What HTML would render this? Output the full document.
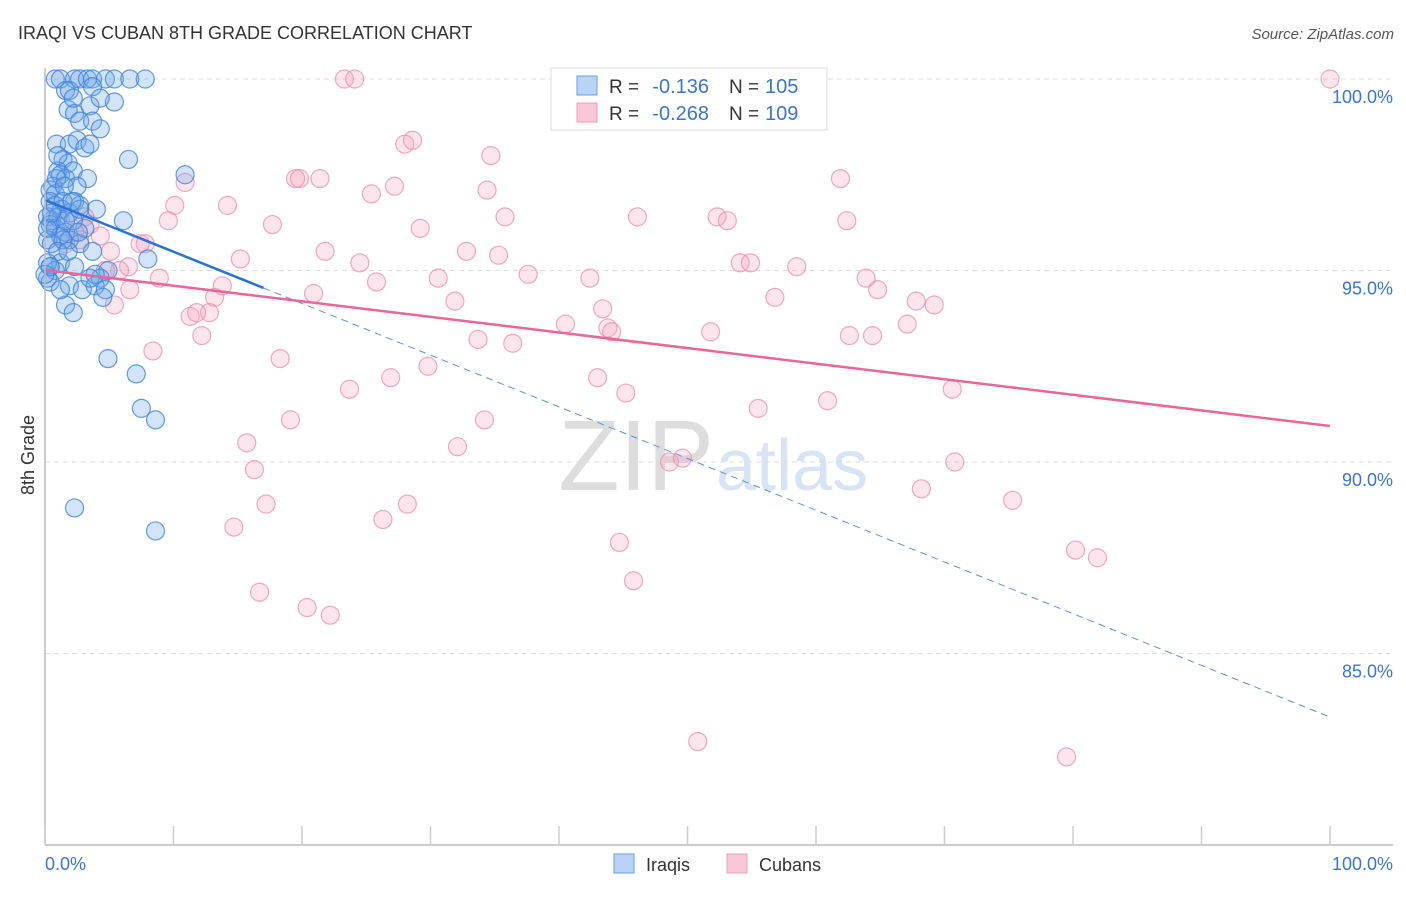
<!DOCTYPE html>
<html><head><meta charset="utf-8"><style>
body{margin:0;background:#fff;font-family:"Liberation Sans",sans-serif;}
svg text{font-family:"Liberation Sans",sans-serif;}
</style></head><body>
<svg id="chart" width="1406" height="892" viewBox="0 0 1406 892">
<text x="18" y="39" font-size="18" fill="#333">IRAQI VS CUBAN 8TH GRADE CORRELATION CHART</text>
<text x="1394" y="39" font-size="15" fill="#555" font-style="italic" text-anchor="end">Source: ZipAtlas.com</text>
<text x="714" y="490" font-size="100" fill="#ddd" text-anchor="end" font-family="Liberation Serif">ZIP</text>
<text x="716" y="490" font-size="72" fill="#d6e4f5">atlas</text>
<g id="grid"></g><g id="pink"></g><g id="blue"></g><g id="lines"></g><g id="axes"></g>
<text x="34" y="455" font-size="18" fill="#333" transform="rotate(-90 34 455)" text-anchor="middle">8th Grade</text>
<g>
<rect x="551" y="68" width="276" height="62" fill="#fff" stroke="#ddd"/>
<rect x="577" y="76" width="20" height="19" fill="#b8d3f5" stroke="#6a9ee0"/>
<rect x="577" y="103" width="20" height="19" fill="#f8c6d6" stroke="#eea0b8"/>
<text x="609" y="93" font-size="19" fill="#333">R =</text>
<text x="709" y="93" font-size="20" fill="#3a75d0" text-anchor="end">-0.136</text>
<text x="729" y="93" font-size="19" fill="#333">N =</text>
<text x="765" y="93" font-size="20" fill="#3a75d0">105</text>
<text x="609" y="120" font-size="19" fill="#333">R =</text>
<text x="709" y="120" font-size="20" fill="#3a75d0" text-anchor="end">-0.268</text>
<text x="729" y="120" font-size="19" fill="#333">N =</text>
<text x="765" y="120" font-size="20" fill="#3a75d0">109</text>
</g>
<g>
<rect x="614" y="854" width="20" height="19" fill="#b8d3f5" stroke="#6a9ee0"/>
<text x="646" y="871" font-size="18" fill="#333">Iraqis</text>
<rect x="727" y="854" width="20" height="19" fill="#f8c6d6" stroke="#eea0b8"/>
<text x="759" y="871" font-size="18" fill="#333">Cubans</text>
</g>
</svg>
<script>
const blueX=[0.8,1.2,2.3,2.7,3.3,3.7,4.7,5.4,6.6,7.8,1.6,1.9,3.7,1.8,3.5,5.4,2.3,2.7,3.7,4.3,0.9,1.9,2.5,3.1,3.5,6.5,1.4,1.8,1.0,1.2,2.2,1.6,3.3,0.6,0.4,0.8,2.5,10.9,2.3,2.7,0.4,0.8,1.3,0.2,0.5,1.0,1.9,4.0,6.1,0.4,0.8,1.2,1.6,1.9,0.2,0.5,1.4,2.7,3.7,8.0,1.2,0.4,2.3,0.8,4.9,4.3,0.2,0.4,1.9,2.9,3.9,4.7,3.5,4.5,1.6,2.2,4.9,7.1,7.5,8.6,2.3,8.6,0.9,1.5,0.2,1.0,3.1,1.8,0.2,1.4,2.2,2.7,1.0,4.3,2.2,0.4,0.0,1.2,3.9,2.1,1.6,0.5,2.6];
const blueY=[100,100,100,100,100,100,100,100,100,100,99.7,99.7,99.8,99.2,99.3,99.4,99.1,98.9,98.9,98.7,98.3,98.3,98.4,98.2,98.3,97.9,97.9,97.8,97.6,97.5,97.6,97.4,97.4,97.2,97.1,97.0,97.2,97.5,96.8,96.7,96.8,96.7,96.6,96.4,96.3,96.4,96.5,96.6,96.3,96.2,96.1,95.9,96.0,95.8,95.8,95.7,95.8,95.7,95.5,95.3,95.2,95.1,95.1,95.0,95.0,94.8,94.8,94.7,94.6,94.5,94.6,94.5,94.8,94.3,94.1,93.9,92.7,92.3,91.4,91.1,88.8,88.2,97.4,97.2,96.1,95.5,96.1,95.5,95.2,96.8,96.3,96.6,98.0,99.5,99.5,95.1,94.9,94.5,94.9,96.8,96.3,96.5,96.0];
const pinkX=[23.3,24.1,100,28.0,28.6,34.7,10.9,19.5,19.8,21.4,25.4,27.2,61.9,34.4,10.1,14.2,9.6,17.7,29.2,35.8,46.1,52.3,53.1,62.4,7.8,7.4,15.2,21.8,32.8,35.3,24.5,6.5,5.8,8.9,25.8,30.6,37.6,42.4,54.1,54.9,58.5,63.9,64.8,13.8,13.2,20.9,31.9,43.4,56.8,67.8,69.2,11.3,12.8,11.8,40.5,43.8,44.1,51.8,62.6,64.4,67.1,33.7,36.4,12.2,8.4,18.3,29.8,26.9,43.0,23.7,45.2,55.5,60.9,70.6,19.1,34.2,15.7,32.1,16.3,48.6,49.6,70.8,68.2,17.2,28.2,26.3,14.7,75.3,44.7,80.2,81.9,45.8,16.7,20.4,22.2,50.8,79.5,3.5,4.3,5.1,2.7,1.6,4.7,6.6,3.1,2.3,1.2,5.4];
const pinkY=[100,100,100,98.3,98.4,98.0,97.3,97.4,97.4,97.4,97.0,97.2,97.4,97.1,96.7,96.7,96.3,96.2,96.1,96.4,96.4,96.4,96.3,96.3,95.7,95.7,95.3,95.5,95.5,95.4,95.2,95.1,95.0,94.8,94.7,94.8,94.9,94.8,95.2,95.2,95.1,94.8,94.5,94.6,94.3,94.4,94.2,94.0,94.3,94.2,94.1,93.8,93.9,93.9,93.6,93.5,93.4,93.4,93.3,93.3,93.6,93.2,93.1,93.3,92.9,92.7,92.5,92.2,92.2,91.9,91.8,91.4,91.6,91.9,91.1,91.1,90.5,90.4,89.8,90.0,90.1,90.0,89.3,88.9,88.9,88.5,88.3,89.0,87.9,87.7,87.5,86.9,86.6,86.2,86.0,82.7,82.3,96.2,95.9,95.5,95.8,95.7,95.0,94.5,96.4,96.0,96.3,94.1];
const yTicks=[100,95,90,85];
const yTickLabels=["100.0%","95.0%","90.0%","85.0%"];
const xTicks=[0,10,20,30,40,50,60,70,80,90,100];
const blueTrend=[96.84,83.34];
const blueSolidEnd=17;
const pinkTrend=[95.01,90.94];

const NS="http://www.w3.org/2000/svg";
const X0=45,X1=1330,YT=79,PX_PER=38.3;
const sx=v=>X0+(X1-X0)*v/100;
const sy=v=>YT+(100-v)*PX_PER;
function mk(tag,attrs,parent){const e=document.createElementNS(NS,tag);for(const k in attrs)e.setAttribute(k,attrs[k]);parent.appendChild(e);return e;}
const grid=document.getElementById('grid'),axes=document.getElementById('axes');
yTicks.forEach((t,i)=>{
  const l=mk('line',{x1:X0,x2:1393,y1:sy(t),y2:sy(t),stroke:'#ddd','stroke-dasharray':'5,4'},grid);
  
  
  const tx=mk('text',{x:1393,y:sy(t)+24,'font-size':18,fill:'#3a75d0','text-anchor':'end'},axes);
  tx.textContent=yTickLabels[i];
  
  
});
let a=mk('line',{x1:X0,x2:X0,y1:68,y2:845,stroke:'#bbb','stroke-width':1.5},axes);


a=mk('line',{x1:X0,x2:1393,y1:845,y2:845,stroke:'#bbb','stroke-width':1.5},axes);


xTicks.forEach(t=>{const l=mk('line',{x1:sx(t),x2:sx(t),y1:826,y2:845,stroke:'#ccc','stroke-width':1.5},axes);
  
  });
let t0=mk('text',{x:45,y:870,'font-size':18,fill:'#3a75d0'},axes);t0.textContent='0.0%';


let t1=mk('text',{x:1393,y:870,'font-size':18,fill:'#3a75d0','text-anchor':'end'},axes);t1.textContent='100.0%';


const pg=document.getElementById('pink');
pinkX.forEach((x,i)=>{const c=mk('circle',{cx:sx(x),cy:sy(pinkY[i]),r:9,fill:'rgba(244,160,188,0.28)',stroke:'rgba(236,140,172,0.75)','stroke-width':1.2},pg);
  
  });
const bg=document.getElementById('blue');
blueX.forEach((x,i)=>{const c=mk('circle',{cx:sx(x),cy:sy(blueY[i]),r:9,fill:'rgba(110,165,232,0.3)',stroke:'rgba(60,130,220,0.8)','stroke-width':1.2},bg);
  
  });
const lg=document.getElementById('lines');
const bAt=v=>blueTrend[0]+(blueTrend[1]-blueTrend[0])*v/100;
let ln=mk('line',{x1:sx(0),y1:sy(bAt(0)),x2:sx(blueSolidEnd),y2:sy(bAt(blueSolidEnd)),stroke:'#2a72d8','stroke-width':2.5},lg);


ln=mk('line',{x1:sx(blueSolidEnd),y1:sy(bAt(blueSolidEnd)),x2:sx(100),y2:sy(bAt(100)),stroke:'#5a92dc','stroke-width':1,'stroke-dasharray':'7,5'},lg);


ln=mk('line',{x1:sx(0),y1:sy(pinkTrend[0]),x2:sx(100),y2:sy(pinkTrend[1]),stroke:'#e8679a','stroke-width':2.5},lg);


</script>
</body></html>
